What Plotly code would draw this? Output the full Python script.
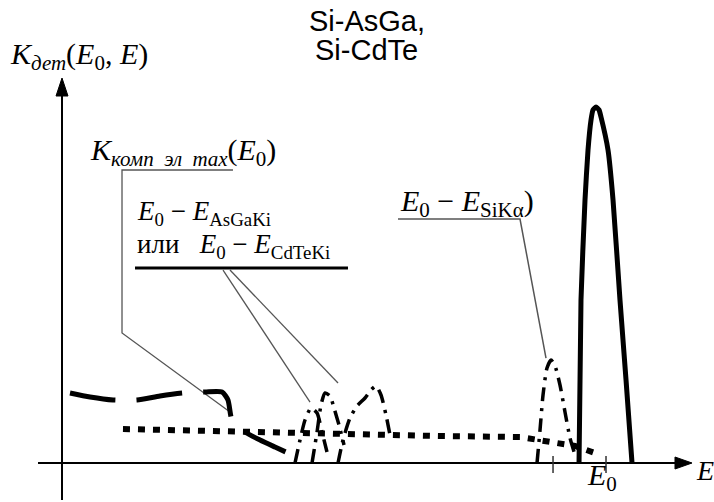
import plotly.graph_objects as go

# Units: E in % of E0 (E0 = 100), K in % of the main peak maximum
# Main full-energy peak (solid)
peak_E = [95.04, 95.40, 96.14, 96.69, 97.24, 97.61, 98.16, 98.71, 99.08, 100.37, 101.29, 102.57, 103.68, 104.78]
peak_K = [0.0, 45.8, 73.9, 87.9, 96.3, 99.2, 100.0, 99.2, 97.2, 87.9, 73.9, 45.8, 23.3, 0.0]

# Compton electrons curve (long dash)
compt_E = [1.47, 5.15, 9.38, 13.79, 18.01, 22.24, 26.29, 29.41, 30.51, 31.25, 33.64, 36.40, 39.15, 41.54]
compt_K = [19.66, 18.54, 17.70, 17.70, 18.82, 19.66, 19.94, 19.94, 17.70, 12.08, 8.71, 6.46, 4.49, 2.81]

# Background (square dots)
bg_E = [11.21, 32.72, 51.10, 69.49, 84.19, 89.52, 92.46, 94.30, 97.98]
bg_K = [9.55, 8.71, 8.15, 7.58, 7.30, 5.90, 5.34, 4.78, 2.81]

# Escape peaks E0 - E_AsGaKi / E0 - E_CdTeKi (dash-dot)
escA_E = [42.83, 43.75, 44.67, 45.77, 46.88, 47.79, 48.71]
escA_K = [0.0, 6.46, 12.08, 15.45, 14.04, 8.71, 3.09]
escB_E = [45.96, 46.88, 47.61, 48.35, 49.26, 50.00, 50.92, 51.84]
escB_K = [0.0, 8.71, 16.29, 19.66, 18.82, 15.45, 10.67, 5.06]
escC_E = [50.74, 51.65, 52.94, 54.23, 55.70, 56.80, 57.72, 58.64, 59.56, 60.29]
escC_K = [0.0, 6.46, 12.64, 16.01, 18.26, 20.51, 21.63, 19.10, 13.48, 7.87]

# Escape peak E0 - E_SiKa (dash-dot)
esi_E = [87.32, 87.87, 88.42, 89.15, 89.89, 90.63, 91.54, 92.46, 93.38, 94.30]
esi_K = [0.0, 9.27, 19.10, 26.69, 28.93, 27.25, 21.91, 14.33, 7.02, 2.25]

# Leader lines
lead1_E = [31.43, 11.03, 11.03, 30.88]
lead1_K = [82.30, 82.30, 36.52, 14.33]
under2_E = [13.42, 52.57]
under2_K = [54.78, 54.78]
lead2a_E = [29.60, 45.59]
lead2a_K = [54.21, 17.13]
lead2b_E = [30.88, 50.74]
lead2b_K = [54.21, 22.47]
lead3_E = [61.76, 84.19, 88.97]
lead3_K = [68.54, 68.54, 29.49]

# Axes
xaxis_E = [-4.41, 113.0]
xaxis_K = [0.0, 0.0]
yaxis_E = [0.0, 0.0]
yaxis_K = [-10.4, 104.0]
xarrow_E = [115.81, 112.68, 112.68, 115.81]
xarrow_K = [0.0, 1.685, -1.685, 0.0]
yarrow_E = [0.0, -1.10, 1.10, 0.0]
yarrow_K = [108.15, 103.09, 103.09, 108.15]
tick_E = [90.26, 100.0]
tick_K = [1.97, -2.81]

fig = go.Figure()

def line(x, y, width, color="black", dash="solid", shape="linear", smoothing=1.0):
    fig.add_trace(go.Scatter(x=x, y=y, mode="lines", hoverinfo="skip",
                             line=dict(color=color, width=width, dash=dash, shape=shape,
                                       smoothing=smoothing)))

# axes
line(xaxis_E, xaxis_K, 2)
line(yaxis_E, yaxis_K, 2)
for xa, ya in [(xarrow_E, xarrow_K), (yarrow_E, yarrow_K)]:
    fig.add_trace(go.Scatter(x=xa, y=ya, mode="lines", fill="toself", fillcolor="black",
                             line=dict(color="black", width=1), hoverinfo="skip"))
for t in tick_E:
    line([t, t], tick_K, 1.5, color="#333")

# leader lines
gray = "#555555"
line(lead1_E, lead1_K, 1.3, gray)
line(lead2a_E, lead2a_K, 1.3, gray)
line(lead2b_E, lead2b_K, 1.3, gray)
line(lead3_E, lead3_K, 1.5, gray)
line(under2_E, under2_K, 3, "black")

# curves
line(bg_E, bg_K, 6, dash="7px,8px")
line(compt_E, compt_K, 5, dash="46px,21px", shape="spline", smoothing=0.6)
dd = "14px,7px,3px,7px"
line(escA_E, escA_K, 3.5, dash=dd, shape="spline", smoothing=0.6)
line(escB_E, escB_K, 3.5, dash=dd, shape="spline", smoothing=0.6)
line(escC_E, escC_K, 3.5, dash=dd, shape="spline", smoothing=0.6)
line(esi_E, esi_K, 3.5, dash=dd, shape="spline", smoothing=0.6)
line(peak_E, peak_K, 5, shape="spline", smoothing=0.5)

serif = "Liberation Serif, Times New Roman, serif"
sans = "Liberation Sans, Arial, sans-serif"

def txt(x, y, s, size, family=serif, xanchor="left"):
    fig.add_annotation(x=x, y=y, xref="x", yref="y", text=s, showarrow=False,
                       xanchor=xanchor, yanchor="middle",
                       font=dict(family=family, size=size, color="black"))

txt(56.0, 124.1, "Si-AsGa,", 29, sans, "center")
txt(56.0, 116.1, "Si-CdTe", 29, sans, "center")
txt(-9.93, 114.2, "<i>K</i><sub><i>дет</i></sub>(<i>E</i><sub>0</sub>, <i>E</i>)", 30)
txt(4.78, 87.4, "<i>K</i><sub><i>комп\u00a0\u00a0эл\u00a0\u00a0max</i></sub>(<i>E</i><sub>0</sub>)", 30)
txt(13.42, 70.3, "<i>E</i><sub>0</sub> − <i>E</i><sub>AsGaKi</sub>", 27)
txt(13.42, 60.9, "или\u00a0\u00a0\u00a0<i>E</i><sub>0</sub> − <i>E</i><sub>CdTeKi</sub>", 27)
txt(61.76, 73.0, "<i>E</i><sub>0</sub> − <i>E</i><sub>SiKα</sub>)", 30)
txt(96.14, -3.9, "<i>E</i><sub>0</sub>", 30)
txt(116.1, -2.0, "<i>E</i>", 28)

fig.update_layout(
    width=714, height=502, margin=dict(l=0, r=0, t=0, b=0),
    paper_bgcolor="white", plot_bgcolor="white", showlegend=False,
    xaxis=dict(range=[-11.397, 119.85], visible=False, fixedrange=True),
    yaxis=dict(range=[-10.955, 130.06], visible=False, fixedrange=True),
)

fig.write_html("out.html")
